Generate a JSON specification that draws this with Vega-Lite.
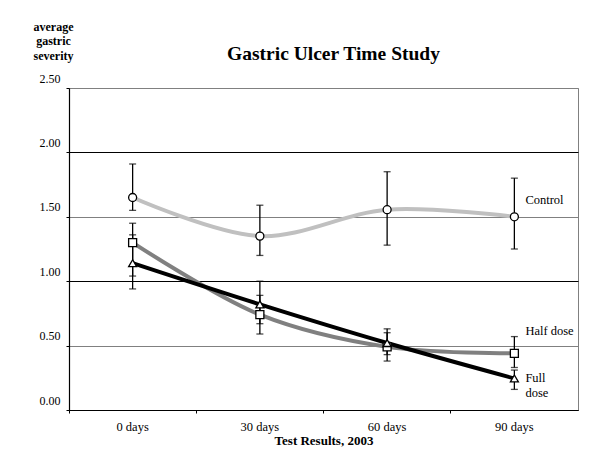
{
  "$schema": "https://vega.github.io/schema/vega-lite/v6.json",
  "width": 509,
  "height": 322,
  "autosize": {"type": "none"},
  "padding": {"left": 69, "top": 88, "right": 16, "bottom": 53},
  "background": "white",
  "title": {
    "text": "Gastric Ulcer Time Study",
    "font": "Liberation Serif",
    "fontSize": 19.5,
    "fontWeight": "bold",
    "color": "black",
    "anchor": "middle",
    "frame": "group",
    "dx": 10,
    "offset": -44
  },
  "config": {
    "view": {"stroke": "#808080", "strokeWidth": 1},
    "axis": {
      "labelFont": "Liberation Serif",
      "titleFont": "Liberation Serif",
      "labelColor": "black",
      "titleColor": "black",
      "domainColor": "black",
      "tickColor": "black"
    }
  },
  "datasets": {
    "obs": [
      {"day": "0 days", "series": "Control", "value": 1.65, "lower": 1.55, "upper": 1.91},
      {"day": "30 days", "series": "Control", "value": 1.35, "lower": 1.2, "upper": 1.59},
      {"day": "60 days", "series": "Control", "value": 1.555, "lower": 1.28, "upper": 1.85},
      {"day": "90 days", "series": "Control", "value": 1.5, "lower": 1.25, "upper": 1.8},
      {"day": "0 days", "series": "Half dose", "value": 1.3, "lower": 1.04, "upper": 1.45},
      {"day": "30 days", "series": "Half dose", "value": 0.74, "lower": 0.59, "upper": 0.89},
      {"day": "60 days", "series": "Half dose", "value": 0.49, "lower": 0.43, "upper": 0.6},
      {"day": "90 days", "series": "Half dose", "value": 0.44, "lower": 0.33, "upper": 0.57},
      {"day": "0 days", "series": "Full dose", "value": 1.14, "lower": 0.94, "upper": 1.36},
      {"day": "30 days", "series": "Full dose", "value": 0.82, "lower": 0.67, "upper": 1.0},
      {"day": "60 days", "series": "Full dose", "value": 0.52, "lower": 0.38, "upper": 0.63},
      {"day": "90 days", "series": "Full dose", "value": 0.245, "lower": 0.16, "upper": 0.31}
    ],
    "labels": [
      {"day": "90 days", "label": "Control", "pos": 1.63},
      {"day": "90 days", "label": "Half dose", "pos": 0.61},
      {"day": "90 days", "label": "Full\ndose", "pos": 0.25}
    ]
  },
  "encoding": {
    "x": {
      "field": "day",
      "type": "nominal",
      "scale": {"domain": ["0 days", "30 days", "60 days", "90 days"], "paddingInner": 0, "paddingOuter": 0},
      "axis": {
        "title": "Test Results, 2003",
        "titleFontSize": 13,
        "titleFontWeight": "bold",
        "titlePadding": 2,
        "labelFontSize": 12.5,
        "labelAngle": 0,
        "labelPadding": 7,
        "tickSize": 3,
        "bandPosition": 0,
        "grid": false,
        "domainWidth": 1.2
      }
    }
  },
  "layer": [
    {
      "data": {"name": "obs"},
      "mark": {"type": "line", "strokeWidth": 4, "interpolate": "catmull-rom"},
      "encoding": {
        "y": {
          "field": "value",
          "type": "quantitative",
          "scale": {"domain": [0, 2.5], "nice": false},
          "axis": {
            "title": ["average", "gastric", "severity"],
            "titleAngle": 0,
            "titleAlign": "center",
            "titleBaseline": "top",
            "titleX": -16,
            "titleY": -67,
            "titleFontSize": 12,
            "titleFontWeight": "bold",
            "titleLineHeight": 14.5,
            "values": [0, 0.5, 1, 1.5, 2, 2.5],
            "format": ".2f",
            "labelFontSize": 12,
            "labelOffset": -10,
            "labelPadding": 6,
            "tickSize": 3,
            "grid": true,
            "gridColor": {"condition": {"test": "datum.value == 1 || datum.value == 2 || datum.value == 0", "value": "black"}, "value": "#808080"},
            "gridWidth": 1,
            "domainWidth": 1.2
          }
        },
        "color": {
          "field": "series",
          "type": "nominal",
          "scale": {"domain": ["Control", "Half dose", "Full dose"], "range": ["#c0c0c0", "#808080", "#000000"]},
          "legend": null
        }
      }
    },
    {
      "data": {"name": "obs"},
      "mark": {"type": "rule", "color": "black", "strokeWidth": 1.3},
      "encoding": {
        "y": {"field": "lower", "type": "quantitative"},
        "y2": {"field": "upper"}
      }
    },
    {
      "data": {"name": "obs"},
      "mark": {"type": "tick", "color": "black", "size": 7, "thickness": 1.3, "orient": "horizontal"},
      "encoding": {
        "y": {"field": "lower", "type": "quantitative"}
      }
    },
    {
      "data": {"name": "obs"},
      "mark": {"type": "tick", "color": "black", "size": 7, "thickness": 1.3, "orient": "horizontal"},
      "encoding": {
        "y": {"field": "upper", "type": "quantitative"}
      }
    },
    {
      "data": {"name": "obs"},
      "mark": {"type": "point", "filled": true, "fill": "white", "stroke": "black", "strokeWidth": 1.3, "size": 64, "opacity": 1},
      "encoding": {
        "y": {"field": "value", "type": "quantitative"},
        "shape": {
          "field": "series",
          "type": "nominal",
          "scale": {"domain": ["Control", "Half dose", "Full dose"], "range": ["circle", "square", "triangle-up"]},
          "legend": null
        }
      }
    },
    {
      "data": {"name": "labels"},
      "mark": {"type": "text", "align": "left", "baseline": "middle", "dx": 11, "font": "Liberation Serif", "fontSize": 12.5, "color": "black", "lineBreak": "\n", "lineHeight": 15.5},
      "encoding": {
        "y": {"field": "pos", "type": "quantitative"},
        "text": {"field": "label"}
      }
    }
  ]
}
